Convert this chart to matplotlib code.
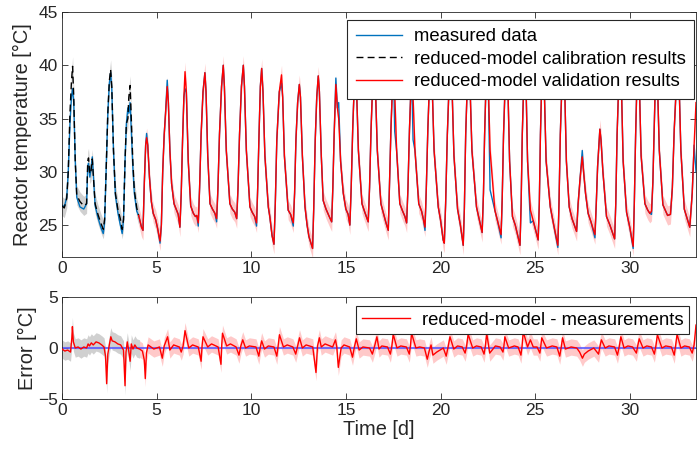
import numpy as np
import matplotlib
matplotlib.use("Agg")
import matplotlib.pyplot as plt

plt.rcParams['font.family'] = ['Liberation Sans', 'DejaVu Sans']

# ---------------- data ----------------
# calibration period: reduced-model (black dashed) knots
cal_t = [0.00, 0.12, 0.25, 0.33, 0.42, 0.50, 0.56, 0.62, 0.70, 0.78, 0.95, 1.15, 1.30, 1.36, 1.40,
         1.47, 1.53, 1.60, 1.66, 1.75, 1.90, 2.05, 2.18, 2.25, 2.33, 2.42, 2.50, 2.57, 2.63, 2.72,
         2.82, 2.95, 3.08, 3.18, 3.25, 3.33, 3.40, 3.48, 3.53, 3.60, 3.66, 3.74, 3.82, 3.95, 4.05]
cal_T = [26.8, 26.6, 27.5, 30.0, 35.5, 38.5, 39.9, 37.0, 31.0, 27.8, 27.2, 26.8, 27.0, 31.0, 31.3,
         29.8, 30.0, 31.2, 29.5, 27.0, 26.0, 25.2, 24.6, 25.5, 30.0, 35.5, 38.5, 39.6, 38.0, 32.0,
         28.0, 26.5, 25.6, 24.6, 25.5, 31.0, 34.5, 35.0, 37.0, 38.1, 35.0, 31.0, 28.3, 26.6, 25.9]
# measured data during the calibration period
cal_meas_T = [26.9, 26.7, 27.6, 30.0, 34.5, 37.0, 37.8, 36.5, 31.0, 27.6, 26.7, 26.5, 27.0, 30.5, 30.8,
              29.5, 30.2, 31.4, 29.5, 26.8, 25.7, 24.8, 24.2, 25.2, 30.0, 35.5, 38.3, 39.3, 37.8, 32.0,
              27.8, 26.2, 25.0, 24.2, 25.5, 31.0, 34.5, 36.0, 35.5, 36.5, 34.0, 30.5, 28.0, 26.3, 25.6]

# validation period: reduced-model (red) knots
val_t = [4.05, 4.20, 4.28, 4.35, 4.42, 4.47, 4.53, 4.62, 4.72, 4.82, 4.95, 5.05, 5.18,
         5.25, 5.32, 5.40, 5.47, 5.56, 5.62, 5.70, 5.79, 5.92, 6.05, 6.14, 6.23,
         6.30, 6.37, 6.44, 6.50, 6.57, 6.67, 6.80, 6.94, 7.05, 7.12, 7.20,
         7.27, 7.35, 7.45, 7.55, 7.61, 7.70, 7.82, 7.95, 8.08, 8.17,
         8.24, 8.32, 8.43, 8.52, 8.58, 8.68, 8.87, 9.00, 9.13, 9.23,
         9.30, 9.38, 9.48, 9.58, 9.64, 9.74, 9.93, 10.05, 10.18, 10.28,
         10.34, 10.41, 10.48, 10.55, 10.62, 10.72, 10.90, 10.98, 11.10, 11.20,
         11.27, 11.35, 11.48, 11.60, 11.66, 11.75, 11.95, 12.08, 12.22,
         12.29, 12.36, 12.45, 12.54, 12.60, 12.70, 12.84, 12.95, 13.05, 13.24,
         13.30, 13.38, 13.46, 13.54, 13.60, 13.70, 13.80, 13.95, 14.12, 14.25,
         14.31, 14.38, 14.47, 14.55, 14.62, 14.72, 14.86, 15.00, 15.12, 15.21,
         15.28, 15.36, 15.44, 15.50, 15.56, 15.66, 15.85, 16.00, 16.18,
         16.25, 16.33, 16.42, 16.50, 16.56, 16.66, 16.85, 17.00, 17.12, 17.24,
         17.30, 17.38, 17.46, 17.52, 17.58, 17.68, 17.85, 18.00, 18.12, 18.21,
         18.28, 18.36, 18.43, 18.48, 18.55, 18.65, 18.85, 19.00, 19.10, 19.18,
         19.25, 19.33, 19.42, 19.50, 19.56, 19.66, 19.88, 20.00, 20.14, 20.20,
         20.27, 20.36, 20.46, 20.55, 20.61, 20.71, 20.90, 21.05, 21.20,
         21.26, 21.33, 21.42, 21.50, 21.56, 21.66, 21.90, 22.05, 22.20,
         22.27, 22.33, 22.40, 22.46, 22.52, 22.62, 22.87, 23.00, 23.20,
         23.26, 23.33, 23.42, 23.50, 23.56, 23.65, 23.80, 23.95, 24.20,
         24.26, 24.32, 24.40, 24.46, 24.52, 24.60, 24.75, 24.90, 25.16,
         25.22, 25.28, 25.35, 25.42, 25.48, 25.58, 25.80, 25.95, 26.20,
         26.26, 26.33, 26.42, 26.50, 26.56, 26.65, 26.80, 26.95, 27.19,
         27.27, 27.38, 27.49, 27.56, 27.66, 27.80, 27.95, 28.16,
         28.23, 28.30, 28.42, 28.48, 28.58, 28.77, 28.95, 29.20,
         29.26, 29.33, 29.42, 29.50, 29.56, 29.65, 29.83, 30.00, 30.18,
         30.24, 30.31, 30.38, 30.45, 30.51, 30.60, 30.80, 30.95, 31.06, 31.15,
         31.22, 31.30, 31.36, 31.41, 31.47, 31.56, 31.75, 31.90, 32.00, 32.15,
         32.25, 32.35, 32.47, 32.55, 32.61, 32.70, 32.88, 33.05, 33.17,
         33.30, 33.40, 33.50]
val_T = [25.9, 24.8, 24.5, 29.0, 32.5, 33.2, 32.5, 29.5, 27.2, 26.1, 25.5, 24.7, 23.5,
         25.0, 30.0, 33.5, 35.5, 38.0, 36.5, 32.0, 28.9, 27.0, 26.4, 26.0, 24.8,
         28.0, 33.0, 37.0, 39.4, 37.5, 31.0, 26.8, 26.1, 25.8, 25.9, 25.2,
         28.5, 33.5, 37.5, 39.3, 37.5, 31.5, 27.0, 26.5, 26.1, 25.6,
         28.5, 33.5, 38.0, 40.0, 38.0, 32.0, 27.0, 26.5, 26.2, 25.6,
         28.5, 33.5, 38.0, 40.0, 38.0, 32.0, 26.7, 26.2, 25.8, 25.2,
         28.5, 33.5, 38.0, 39.7, 37.5, 31.5, 26.7, 25.8, 24.0, 23.2,
         27.0, 33.0, 37.5, 39.1, 37.0, 31.5, 26.4, 26.0, 25.2,
         28.0, 33.0, 36.5, 38.2, 37.0, 31.5, 26.7, 25.0, 23.9, 22.8,
         26.5, 33.0, 37.0, 39.0, 37.5, 31.5, 27.3, 26.5, 25.8, 25.3,
         28.5, 33.5, 38.2, 36.0, 35.0, 31.0, 28.0, 26.5, 26.0, 25.0,
         28.5, 34.0, 38.0, 39.5, 38.0, 32.0, 27.0, 26.2, 25.3,
         28.5, 34.0, 38.5, 40.0, 38.0, 32.0, 27.0, 26.0, 25.2, 24.5,
         28.5, 34.0, 38.0, 39.5, 37.5, 32.0, 27.0, 26.3, 25.8, 25.2,
         28.5, 34.0, 37.5, 38.8, 37.0, 32.0, 27.0, 26.3, 25.5, 24.8,
         28.5, 34.0, 38.5, 40.0, 38.0, 32.0, 26.7, 25.5, 23.6, 23.3,
         27.0, 33.5, 38.5, 39.8, 37.8, 31.5, 26.5, 25.0, 23.1,
         26.5, 33.5, 38.5, 40.0, 38.0, 32.0, 26.7, 25.5, 24.3,
         28.0, 33.5, 38.0, 39.5, 38.5, 32.0, 26.4, 25.5, 24.1,
         27.5, 33.5, 38.5, 40.2, 38.0, 31.0, 25.8, 25.0, 23.1,
         27.0, 33.5, 38.5, 40.2, 38.0, 31.0, 26.4, 25.4, 23.6,
         27.0, 33.5, 38.5, 40.2, 38.0, 31.0, 26.7, 25.3, 23.1,
         27.0, 33.5, 38.5, 40.2, 38.0, 31.0, 26.7, 25.6, 24.4,
         27.0, 29.5, 31.4, 30.0, 28.0, 26.1, 25.3, 24.1,
         27.0, 30.5, 34.0, 33.0, 30.0, 25.8, 25.0, 23.7,
         27.0, 33.5, 38.5, 39.8, 38.0, 31.0, 26.2, 24.8, 23.0,
         27.0, 33.5, 38.5, 40.0, 38.0, 31.5, 27.0, 26.4, 26.1, 26.3,
         29.0, 34.5, 39.0, 40.2, 38.0, 32.0, 26.9, 26.3, 25.9, 26.0,
         28.5, 34.0, 38.5, 40.0, 38.0, 32.0, 26.5, 25.5, 24.8,
         28.0, 32.5, 36.5]
# measured data where it visibly departs from the validation model
meas_dev_t = [4.47, 5.18, 5.56, 6.50, 7.20, 8.17, 10.28, 11.60, 12.22, 14.47, 14.62, 17.58, 18.55,
              19.18, 22.62, 23.20, 24.75, 26.20, 27.49, 28.16, 30.18, 31.15, 33.50]
meas_dev_T = [33.6, 23.3, 38.6, 37.8, 24.9, 25.3, 24.9, 38.3, 24.9, 38.8, 36.5, 33.8, 33.0,
              24.5, 28.3, 23.8, 25.2, 22.9, 32.0, 23.8, 22.8, 26.0, 30.0]

# error series: reduced-model - measurements
err_t = [0.00, 0.15, 0.30, 0.45, 0.52, 0.55, 0.60, 0.70, 0.85, 1.00, 1.15, 1.30, 1.38, 1.45, 1.55,
         1.65, 1.80, 1.95, 2.10, 2.22, 2.30, 2.36, 2.42, 2.50, 2.58, 2.65, 2.80, 2.95, 3.10, 3.25,
         3.33, 3.38, 3.45, 3.52, 3.60, 3.66, 3.75, 3.85, 3.95, 4.10, 4.25, 4.35, 4.40, 4.46, 4.55,
         4.70, 4.85, 5.00, 5.15,
         5.30, 5.40, 5.58, 5.70, 5.90, 6.20, 6.30, 6.40, 6.50, 6.70, 6.90, 7.20, 7.35, 7.40, 7.45,
         7.70, 7.90, 8.25, 8.40, 8.44, 8.48, 8.70, 8.90, 9.20, 9.35, 9.45, 9.55, 9.70, 9.90,
         10.25, 10.40, 10.48, 10.55, 10.70, 10.90, 11.20, 11.35, 11.42, 11.49, 11.70, 11.90,
         12.20, 12.35, 12.45, 12.55, 12.70, 12.90, 13.25, 13.42, 13.50, 13.60, 13.70, 13.90,
         14.30, 14.45, 14.52, 14.60, 14.75, 14.90, 15.20, 15.35, 15.45, 15.55, 15.70, 15.90,
         16.25, 16.40, 16.52, 16.64, 16.75, 16.90, 17.20, 17.35, 17.43, 17.50, 17.70, 17.90,
         18.20, 18.35, 18.41, 18.47, 18.70, 18.90, 19.15, 19.30, 19.40, 19.50, 19.60, 19.80,
         20.15, 20.30, 20.40, 20.50, 20.70, 20.90, 21.15, 21.30, 21.38, 21.46, 21.70, 21.90,
         22.15, 22.30, 22.37, 22.44, 22.60, 22.90, 23.15, 23.30, 23.35, 23.40, 23.60, 23.90,
         24.10, 24.25, 24.31, 24.37, 24.60, 24.75, 24.90, 25.10, 25.25, 25.30, 25.35, 25.60, 25.90,
         26.15, 26.30, 26.38, 26.45, 26.60, 26.90, 27.20, 27.35, 27.50, 27.60, 27.80, 28.10,
         28.35, 28.42, 28.50, 28.70, 28.90, 29.20, 29.35, 29.45, 29.53, 29.70, 29.90, 30.15,
         30.35, 30.42, 30.50, 30.70, 30.90, 31.15, 31.30, 31.38, 31.46, 31.70, 31.90, 32.20,
         32.35, 32.42, 32.50, 32.70, 32.90, 33.15, 33.30, 33.40, 33.50]
err_E = [-0.1, -0.3, -0.2, -0.4, 1.0, 2.1, 0.6, 0.0, 0.1, -0.1, 0.1, 0.0, 0.4, 0.2, 0.5,
         0.3, 0.6, 0.5, 0.3, 0.1, -0.8, -3.5, -0.6, 0.3, 1.1, 0.7, 0.6, 0.4, 0.3, -0.2,
         -3.7, -0.4, 0.6, -0.2, -1.3, 0.4, -0.1, 0.3, 0.0, -0.1, -0.3, -1.2, -3.0, -0.5, 0.3,
         0.1, -0.1, 0.0, 0.1,
         -1.0, 0.2, 1.1, -0.2, 0.3, 0.1, -0.4, 0.2, 1.7, 0.0, 0.3, 0.1, -1.3, 0.2, 1.1,
         0.1, 0.4, 0.1, -1.6, 0.3, 1.45, 0.2, 0.4, 0.1, -0.7, 0.2, 0.8, 0.0, 0.2,
         0.1, -0.8, 0.1, 0.7, -0.1, 0.2, 0.1, -0.8, 0.2, 1.3, 0.1, 0.3,
         0.1, -0.6, 0.2, 1.0, 0.0, 0.3, 0.1, -2.4, 0.2, 1.0, 0.1, 0.4,
         0.1, 0.8, 0.1, -1.9, 0.0, 0.3, 0.1, -0.9, 0.1, 0.9, -0.2, 0.1,
         0.0, -0.6, 0.2, 1.1, -0.1, 0.2, 0.1, -0.6, 0.2, 1.35, 0.0, 0.2,
         0.1, -0.6, 0.2, 1.45, 0.0, 0.1, 0.0, -1.1, -0.3, 0.3, -0.7, -0.4,
         0.0, -0.8, 0.1, 1.1, -0.1, 0.2, 0.1, -0.5, 0.2, 1.35, 0.0, 0.2,
         0.1, -0.6, 0.2, 1.45, -0.5, 0.2, 0.1, -0.4, 0.2, 1.1, 0.0, 0.2,
         0.1, -0.7, 0.2, 1.6, 0.1, 0.8, 0.1, 0.1, -0.5, 0.2, 1.0, 0.0, 0.2,
         0.1, -0.8, 0.1, 1.0, -0.1, 0.1, 0.0, -0.4, -1.0, -0.6, -0.3, 0.0,
         -0.6, 0.1, 0.8, 0.0, 0.2, 0.1, -0.7, 0.2, 1.1, 0.0, 0.2, 0.1,
         -0.5, 0.2, 0.9, 0.0, 0.2, 0.1, -0.6, 0.2, 1.3, 0.0, 0.2, 0.1,
         -0.7, 0.2, 1.35, 0.0, 0.2, 0.1, -0.5, 0.3, 2.25]

# ---------------- figure ----------------
W, H = 697, 454
fig = plt.figure(figsize=(W / 100, H / 100), dpi=100)
ax1 = fig.add_axes([62 / W, 1 - 257 / H, 634 / W, 245 / H])
ax2 = fig.add_axes([62 / W, 1 - 399 / H, 634 / W, 102 / H])

cal_t_a = np.array(cal_t)
cal_T_a = np.array(cal_T)
cal_m_a = np.array(cal_meas_T)
val_t_a = np.array(val_t)
val_T_a = np.array(val_T)
val_m_a = val_T_a.copy()
for tt, vv in zip(meas_dev_t, meas_dev_T):
    val_m_a[np.argmin(np.abs(val_t_a - tt))] = vv

MBLUE = '#0072BD'
RED = '#FF0000'
BAND = 0.9
TXT = '#262626'

# top panel
ax1.fill_between(cal_t_a, cal_T_a - BAND, cal_T_a + BAND, color='#BDBDBD', alpha=0.7, lw=0, zorder=1)
ax1.fill_between(val_t_a, val_T_a - BAND, val_T_a + BAND, color='#FF8080', alpha=0.42, lw=0, zorder=1)
meas_t_all = np.concatenate([cal_t_a[:-1], val_t_a])
meas_T_all = np.concatenate([cal_m_a[:-1], val_m_a])
l_meas, = ax1.plot(meas_t_all, meas_T_all, color=MBLUE, lw=1.0, zorder=2)
l_cal, = ax1.plot(cal_t_a, cal_T_a, color='black', lw=1.0, ls=(0, (5, 3)), zorder=3)
l_val, = ax1.plot(val_t_a, val_T_a, color=RED, lw=1.0, zorder=3)

ax1.set_xlim(0, 33.5)
ax1.set_ylim(22, 45)
ax1.set_xticks([0, 5, 10, 15, 20, 25, 30])
ax1.set_yticks([25, 30, 35, 40, 45])
ax1.set_ylabel('Reactor temperature [°C]', fontsize=14.4, color=TXT, labelpad=5)
leg1 = ax1.legend([l_meas, l_cal, l_val],
                  ['measured data', 'reduced-model calibration results', 'reduced-model validation results'],
                  loc='upper right', bbox_to_anchor=(0.997, 0.967), borderaxespad=0,
                  fontsize=13.3, handlelength=2.5, handletextpad=0.65, labelspacing=0.3,
                  borderpad=0.45, fancybox=False, framealpha=1, edgecolor=TXT)
leg1.get_frame().set_linewidth(0.8)

# bottom panel
err_t_a = np.array(err_t)
err_E_a = np.array(err_E)
cal_mask = err_t_a <= 4.1
val_mask = err_t_a >= 4.1
ax2.fill_between(err_t_a[cal_mask], err_E_a[cal_mask] - 0.9, err_E_a[cal_mask] + 0.9,
                 color='#BDBDBD', alpha=0.7, lw=0, zorder=1)
ax2.fill_between(err_t_a[val_mask], err_E_a[val_mask] - 0.8, err_E_a[val_mask] + 0.8,
                 color='#FF8080', alpha=0.42, lw=0, zorder=1)
ax2.axhline(0, color='#5A5AFF', lw=1.5, alpha=0.85, zorder=2)
l_err, = ax2.plot(err_t_a, err_E_a, color=RED, lw=1.0, zorder=3)
ax2.set_xlim(0, 33.5)
ax2.set_ylim(-5, 5)
ax2.set_xticks([0, 5, 10, 15, 20, 25, 30])
ax2.set_yticks([-5, 0, 5])
ax2.set_ylabel('Error [°C]', fontsize=14.4, color=TXT, labelpad=1)
ax2.set_xlabel('Time [d]', fontsize=14.4, color=TXT, labelpad=1)
leg2 = ax2.legend([l_err], ['reduced-model - measurements'],
                  loc='upper right', bbox_to_anchor=(0.989, 0.912), borderaxespad=0,
                  fontsize=13.3, handlelength=2.6, handletextpad=0.65,
                  borderpad=0.3, fancybox=False, framealpha=1, edgecolor=TXT)
leg2.get_frame().set_linewidth(0.8)

for ax in (ax1, ax2):
    ax.tick_params(direction='in', top=True, right=True, length=4, width=0.6,
                   labelsize=12.5, colors=TXT, pad=3)
    for s in ax.spines.values():
        s.set_color(TXT)
        s.set_linewidth(0.6)

fig.savefig('out.png', dpi=100)
